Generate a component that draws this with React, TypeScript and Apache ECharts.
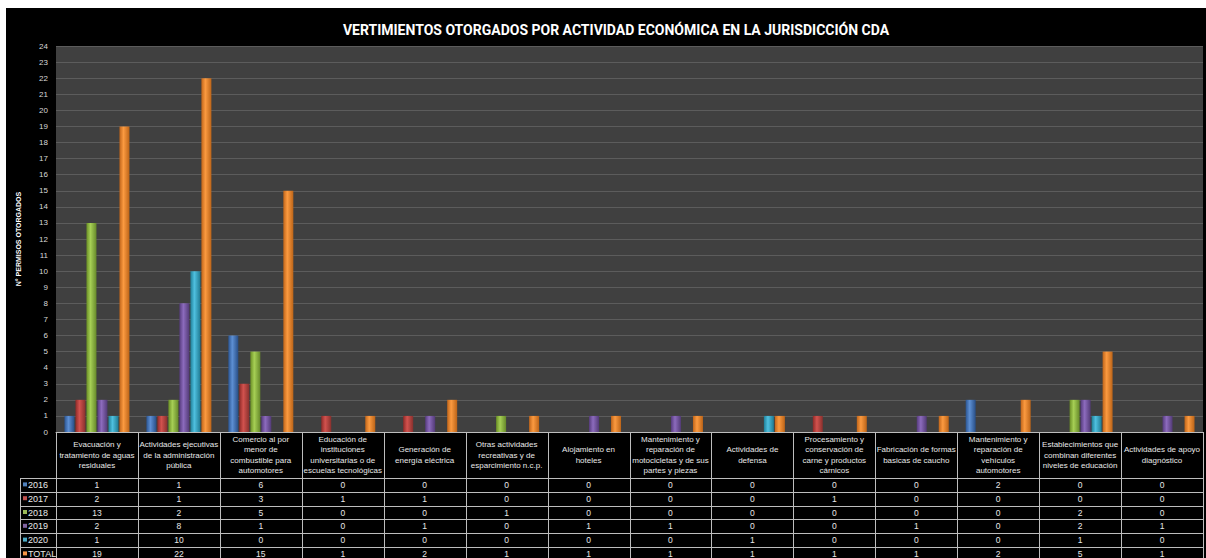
import React, { useEffect, useRef } from 'react';
import * as echarts from 'echarts';

const title = 'VERTIMIENTOS OTORGADOS POR ACTIVIDAD ECONÓMICA EN LA JURISDICCIÓN CDA';
const yAxisName = 'N° PERMISOS OTORGADOS';
const categories = [
  'Evacuación y\ntratamiento de aguas\nresiduales',
  'Actividades ejecutivas\nde la administración\npública',
  'Comercio al por\nmenor de\ncombustible para\nautomotores',
  'Educación de\ninstituciones\nuniversitarias o de\nescuelas tecnológicas',
  'Generación de\nenergía eléctrica',
  'Otras actividades\nrecreativas y de\nesparcimiento n.c.p.',
  'Alojamiento en\nhoteles',
  'Mantenimiento y\nreparación de\nmotocicletas y de sus\npartes y piezas',
  'Actividades de\ndefensa',
  'Procesamiento y\nconservación de\ncarne y productos\ncárnicos',
  'Fabricación de formas\nbasicas de caucho',
  'Mantenimiento y\nreparación de\nvehículos\nautomotores',
  'Establecimientos que\ncombinan diferentes\nniveles de educación',
  'Actividades de apoyo\ndiagnóstico',
];
const seriesNames = ['2016', '2017', '2018', '2019', '2020', 'TOTAL'];
const v2016 = [1, 1, 6, 0, 0, 0, 0, 0, 0, 0, 0, 2, 0, 0];
const v2017 = [2, 1, 3, 1, 1, 0, 0, 0, 0, 1, 0, 0, 0, 0];
const v2018 = [13, 2, 5, 0, 0, 1, 0, 0, 0, 0, 0, 0, 2, 0];
const v2019 = [2, 8, 1, 0, 1, 0, 1, 1, 0, 0, 1, 0, 2, 1];
const v2020 = [1, 10, 0, 0, 0, 0, 0, 0, 1, 0, 0, 0, 1, 0];
const vTotal = [19, 22, 15, 1, 2, 1, 1, 1, 1, 1, 1, 2, 5, 1];
const seriesValues = [v2016, v2017, v2018, v2019, v2020, vTotal];
const yMin = 0;
const yMax = 24;
const yInterval = 1;

const palette = [
  ['#2b5592', '#5d8fd3', '#284e86'],
  ['#8e2a28', '#d2524e', '#88302d'],
  ['#6a8f25', '#a6cf55', '#66892a'],
  ['#563b7d', '#8c6bbd', '#523a76'],
  ['#1f7f98', '#4fc0df', '#1f7a92'],
  ['#c0651a', '#fb9a40', '#bc6418'],
];
const keyColors = ['#4f81bd', '#c0504d', '#9bbb59', '#8064a2', '#4bacc6', '#f79646'];

const W = 1200;
const H = 550;
const gridLeft = 50;
const gridRightX = 1197;
const gridTop = 38;
const axisY = 424;
const headerBottom = 470;
const rowH = 13.8;
const legendLeft = 14;
const lineColor = '#bdbdbd';
const fontFamily = "'Liberation Sans', Arial, sans-serif";

export default function App() {
  const ref = useRef<HTMLDivElement>(null);
  useEffect(() => {
    if (!ref.current) return;
    const chart = echarts.init(ref.current, null, { renderer: 'svg' });
    const n = categories.length;
    const catW = (gridRightX - gridLeft) / n;
    const graphics: any[] = [];
    for (let j = 0; j <= n; j++) {
      const x = Math.round(gridLeft + j * catW) + 0.5;
      graphics.push({ type: 'line', shape: { x1: x, y1: axisY, x2: x, y2: H }, style: { stroke: lineColor, lineWidth: 1 }, silent: true });
    }
    graphics.push({ type: 'line', shape: { x1: legendLeft + 0.5, y1: headerBottom, x2: legendLeft + 0.5, y2: H }, style: { stroke: lineColor, lineWidth: 1 } });
    for (let i = 0; i < seriesNames.length; i++) {
      const y = Math.round(headerBottom + i * rowH) + 0.5;
      graphics.push({ type: 'line', shape: { x1: legendLeft, y1: y, x2: gridRightX + 1, y2: y }, style: { stroke: lineColor, lineWidth: 1 } });
      const cy = headerBottom + (i + 0.5) * rowH;
      graphics.push({ type: 'rect', shape: { x: legendLeft + 3, y: cy - 2.5, width: 4, height: 4 }, style: { fill: keyColors[i] } });
      graphics.push({ type: 'text', x: legendLeft + 8, y: cy, style: { text: seriesNames[i], fill: '#e8e8e8', fontSize: 9, fontFamily, verticalAlign: 'middle', align: 'left' } });
      for (let j = 0; j < n; j++) {
        graphics.push({
          type: 'text', x: gridLeft + (j + 0.5) * catW, y: cy,
          style: { text: String(seriesValues[i][j]), fill: '#e8e8e8', fontSize: 8.5, fontFamily, align: 'center', verticalAlign: 'middle' },
        });
      }
    }
    const series = seriesNames.map((name, i) => ({
      name,
      type: 'bar',
      data: seriesValues[i],
      barWidth: 10,
      barGap: '10%',
      itemStyle: {
        color: new echarts.graphic.LinearGradient(0, 0, 1, 0, [
          { offset: 0, color: palette[i][0] },
          { offset: 0.4, color: palette[i][1] },
          { offset: 1, color: palette[i][2] },
        ]),
      },
    }));
    chart.setOption({
      animation: false,
      backgroundColor: '#000000',
      title: {
        text: title,
        left: 605,
        top: 10,
        textAlign: 'center',
        textStyle: { color: '#ffffff', fontSize: 14, fontWeight: 'bold', fontFamily: 'Roboto, sans-serif' },
      },
      grid: {
        left: gridLeft, right: W - gridRightX, top: gridTop, bottom: H - axisY,
        show: true, backgroundColor: '#404040', borderWidth: 0,
      },
      xAxis: {
        type: 'category',
        data: categories,
        axisLine: { show: true, lineStyle: { color: lineColor, width: 1 } },
        axisTick: { show: false },
        axisLabel: {
          interval: 0, color: '#e8e8e8', fontSize: 8, lineHeight: 10.5, fontFamily,
          verticalAlign: 'middle', margin: 23,
        },
      },
      yAxis: {
        type: 'value',
        min: yMin, max: yMax, interval: yInterval,
        name: yAxisName,
        nameLocation: 'middle',
        nameGap: 34,
        nameTextStyle: { color: '#ffffff', fontSize: 7, fontWeight: 'bold', fontFamily },
        axisLine: { show: false },
        axisTick: { show: false },
        axisLabel: { color: '#d8d8d8', fontSize: 8, margin: 8, fontFamily },
        splitLine: { lineStyle: { color: '#5c5c5c', width: 1 } },
      },
      series,
      graphic: graphics,
    });
    return () => chart.dispose();
  }, []);
  return <div ref={ref} style={{ width: W, height: H, position: 'absolute', left: 6, top: 8 }} />;
}
